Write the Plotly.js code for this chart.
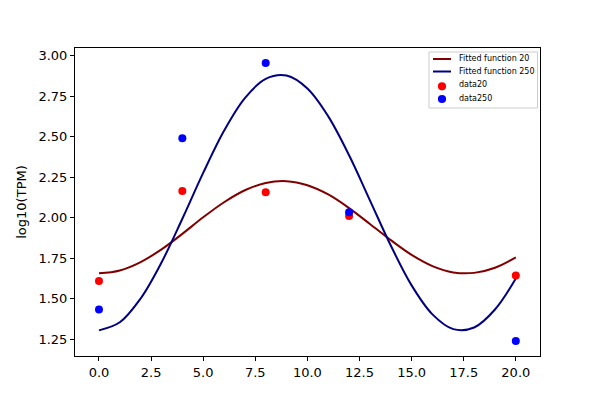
<!DOCTYPE html>
<html>
<head>
<meta charset="utf-8">
<script src="https://cdn.plot.ly/plotly-3.0.1.min.js"></script>
<style>
  html, body { margin: 0; padding: 0; background: #fff; }
  #plot { width: 600px; height: 400px; }
</style>
</head>
<body>
<div id="plot"></div>
<script>
// === Data === //
var timePoints = [0, 4, 8, 12, 20];
var data20 = [1.61, 2.165, 2.157, 2.011, 1.644];
var data250 = [1.434, 2.491, 2.955, 2.035, 1.239];

// fitted curves, sampled along x
var fitX = [0, 1, 2, 3, 4, 5, 6, 7, 8, 9, 10, 11, 12, 13, 14, 15, 16, 17, 18, 19, 20];
var fit20 = [1.657, 1.675, 1.727, 1.805, 1.901, 2.003, 2.096, 2.170, 2.215, 2.226, 2.201,
             2.144, 2.060, 1.962, 1.862, 1.771, 1.702, 1.663, 1.660, 1.692, 1.756];
var fit250 = [1.305, 1.355, 1.502, 1.724, 1.994, 2.277, 2.537, 2.739, 2.858, 2.878, 2.798,
              2.626, 2.386, 2.108, 1.829, 1.583, 1.404, 1.313, 1.323, 1.434, 1.625];

var legendNames = ['Fitted function 20', 'Fitted function 250', 'data20', 'data250'];
var colors = ['#800000', '#000080', '#ff0000', '#0000ff'];

var font = 'DejaVu Sans, sans-serif';

var traces = [
    {
        x: fitX, y: fit20, name: legendNames[0],
        type: 'scatter', mode: 'lines',
        line: {color: colors[0], width: 2, shape: 'spline'}
    },
    {
        x: fitX, y: fit250, name: legendNames[1],
        type: 'scatter', mode: 'lines',
        line: {color: colors[1], width: 2, shape: 'spline'}
    },
    {
        x: timePoints, y: data20, name: legendNames[2],
        type: 'scatter', mode: 'markers',
        marker: {color: colors[2], size: 8}
    },
    {
        x: timePoints, y: data250, name: legendNames[3],
        type: 'scatter', mode: 'markers',
        marker: {color: colors[3], size: 8}
    }
];

// === Compact legend (matplotlib style), drawn in paper coords === //
var plotL = 75, plotT = 48, plotW = 465, plotH = 308;
function fx(px){ return (px - plotL) / plotW; }
function fy(py){ return (plotT + plotH - py) / plotH; }

var shapes = [
    {type: 'rect', xref: 'paper', yref: 'paper',
     x0: fx(429), x1: fx(537.5), y0: fy(108), y1: fy(52),
     fillcolor: 'rgba(255,255,255,0.8)', line: {color: '#cccccc', width: 1}}
];
var annotations = [];
var rowY = [59, 71.5, 85, 98.5];
var dotY = [0, 0, 86.3, 99];
legendNames.forEach(function(name, i){
    if(i < 2){
        shapes.push({type: 'line', xref: 'paper', yref: 'paper',
            x0: fx(433), x1: fx(451), y0: fy(rowY[i]), y1: fy(rowY[i]),
            line: {color: colors[i], width: 2}});
    } else {
        var r = 4.1;
        shapes.push({type: 'circle', xref: 'paper', yref: 'paper',
            x0: fx(442 - r), x1: fx(442 + r), y0: fy(dotY[i] + r), y1: fy(dotY[i] - r),
            fillcolor: colors[i], line: {color: colors[i], width: 0}});
    }
    annotations.push({xref: 'paper', yref: 'paper', x: fx(456.5), y: fy(rowY[i]),
        xanchor: 'left', yanchor: 'middle', showarrow: false, text: name,
        font: {family: font, size: 8, color: '#000'}});
});

var axisStyle = {
    showline: true, mirror: true, linecolor: '#000', linewidth: 1,
    ticks: 'outside', ticklen: 4, tickcolor: '#000', tickwidth: 1,
    showgrid: false, zeroline: false,
    tickfont: {family: font, size: 13, color: '#000'}
};

var layout = {
    width: 600, height: 400,
    paper_bgcolor: '#fff', plot_bgcolor: '#fff',
    margin: {l: plotL, r: 600 - plotL - plotW, t: plotT, b: 400 - plotT - plotH},
    showlegend: false,
    xaxis: Object.assign({}, axisStyle, {
        range: [-1.15, 21.16], tick0: 0, dtick: 2.5, tickformat: '.1f'
    }),
    yaxis: Object.assign({}, axisStyle, {
        range: [1.147, 3.048], tick0: 0, dtick: 0.25, tickformat: '.2f',
        title: {text: 'log10(TPM)', font: {family: font, size: 13, color: '#000'}, standoff: 8}
    }),
    shapes: shapes,
    annotations: annotations
};

Plotly.newPlot('plot', traces, layout, {displayModeBar: false, staticPlot: true});
</script>
</body>
</html>
